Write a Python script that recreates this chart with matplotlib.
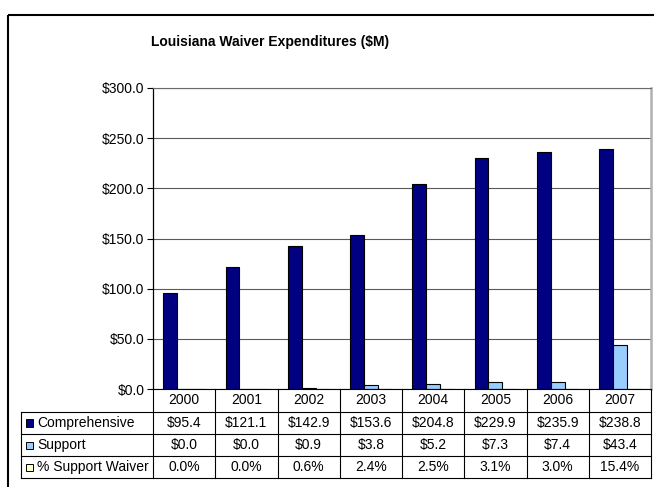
import matplotlib
matplotlib.use("Agg")
import matplotlib.pyplot as plt
from matplotlib.patches import Rectangle
import numpy as np

plt.rcParams['font.family'] = ['Liberation Sans', 'DejaVu Sans']

# Data
years = ["2000", "2001", "2002", "2003", "2004", "2005", "2006", "2007"]
comprehensive = [95.4, 121.1, 142.9, 153.6, 204.8, 229.9, 235.9, 238.8]
support = [0.0, 0.0, 0.9, 3.8, 5.2, 7.3, 7.4, 43.4]
pct_support = [0.0, 0.0, 0.6, 2.4, 2.5, 3.1, 3.0, 15.4]
series_names = ["Comprehensive", "Support", "% Support Waiver"]
series_colors = ["#000080", "#99CCFF", "#FFFFCC"]
title = "Louisiana Waiver Expenditures ($M)"
yticks = [0, 50, 100, 150, 200, 250, 300]

W, H = 654, 487
fig = plt.figure(figsize=(W / 100, H / 100), dpi=100)
fig.patch.set_facecolor("white")

# plot area in pixel units
PL, PR, PT, PB = 153, 651, 88, 389
ax = fig.add_axes([PL / W, 1 - PB / H, (PR - PL) / W, (PB - PT) / H])

n = len(years)
x = np.arange(n)
w = 1 / 4.5  # 150% gap width
vals = [comprehensive, support, [p / 100 for p in pct_support]]
for k, (v, c) in enumerate(zip(vals, series_colors)):
    ax.bar(x + (k - 1) * w, v, width=w, color=c, edgecolor="black",
           linewidth=0.8, zorder=3)

ax.set_xlim(-0.5, n - 0.5)
ax.set_ylim(0, 300)
ax.set_yticks(yticks)
ax.set_yticklabels([f"${t:.1f}" for t in yticks], fontsize=10)
ax.set_xticks([])
ax.tick_params(axis="y", direction="out", length=4, width=0.8, pad=2)
ax.yaxis.grid(True, color="#5a5a5a", linewidth=0.8)
ax.set_axisbelow(True)
ax.spines["left"].set_color("black")
ax.spines["left"].set_linewidth(0.9)
ax.spines["top"].set_color("#6a6a6a")
ax.spines["top"].set_linewidth(0.8)
ax.spines["right"].set_color("#b0b0b0")
ax.spines["right"].set_linewidth(1.8)
ax.spines["bottom"].set_visible(False)

# overlay in pixel coordinates for the frame, title and data table
ov = fig.add_axes([0, 0, 1, 1])
ov.set_xlim(0, W)
ov.set_ylim(H, 0)
ov.axis("off")
ov.patch.set_visible(False)

# chart border
ov.add_patch(Rectangle((8, 14.5), 700, 520, fill=False, edgecolor="black",
                       linewidth=1.5))

ov.text(270, 42, title, ha="center", va="center", fontsize=10,
        fontweight="bold")

# data table
rows = [389, 411.5, 434, 456, 478]
col_w = (PR - PL) / n
col_edges = [PL + k * col_w for k in range(n + 1)]
LX = 20.5
lc = "black"
lw = 0.8
ov.plot([PL, PR], [rows[0], rows[0]], color=lc, lw=lw)
for yy in rows[1:]:
    ov.plot([LX, PR], [yy, yy], color=lc, lw=lw)
for xx in col_edges:
    ov.plot([xx, xx], [rows[0], rows[-1]], color=lc, lw=lw)
ov.plot([LX, LX], [rows[1], rows[-1]], color=lc, lw=lw)

for i, yr in enumerate(years):
    cx = col_edges[i] + col_w / 2
    ov.text(cx, (rows[0] + rows[1]) / 2, yr, ha="center", va="center",
            fontsize=10)
    ov.text(cx, (rows[1] + rows[2]) / 2, f"${comprehensive[i]:.1f}",
            ha="center", va="center", fontsize=10)
    ov.text(cx, (rows[2] + rows[3]) / 2, f"${support[i]:.1f}",
            ha="center", va="center", fontsize=10)
    ov.text(cx, (rows[3] + rows[4]) / 2, f"{pct_support[i]:.1f}%",
            ha="center", va="center", fontsize=10)

for r, (name, c) in enumerate(zip(series_names, series_colors)):
    cy = (rows[r + 1] + rows[r + 2]) / 2
    ov.add_patch(Rectangle((25.5, cy - 3.5), 7.5, 7.5, facecolor=c,
                           edgecolor="black", linewidth=0.7))
    ov.text(37, cy, name, ha="left", va="center", fontsize=10)

fig.savefig("out.png", dpi=100)
